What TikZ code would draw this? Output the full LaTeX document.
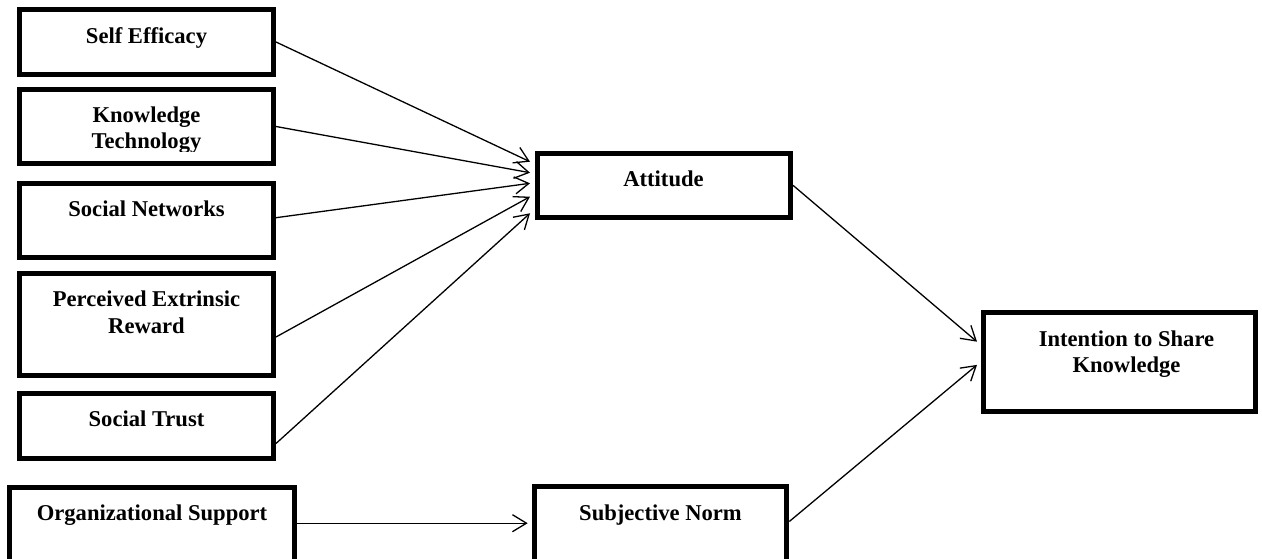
\documentclass[tikz,border=0pt]{standalone}
\usepackage{fontspec}
\setmainfont{Liberation Serif}
\usetikzlibrary{arrows.meta,calc}
\tikzset{
  box/.style={draw=black, line width=5pt, fill=white, inner sep=0pt, minimum width=254pt},
  lbl/.style={font=\bfseries\fontsize{22.6}{26.7}\selectfont, inner sep=0pt, align=center},
  conn/.style={line width=1.3pt, -{Straight Barb[length=14pt,width=17pt,line width=1.3pt]}}
}
\begin{document}
\begin{tikzpicture}[x=1pt,y=-1pt]
\useasboundingbox (0,0) rectangle (1262,559);
\clip (0,0) rectangle (1262,559);
% boxes
\node[box, minimum height=65pt] (se) at (146.5,42) {};
\node[box, minimum height=74pt] (kt) at (146.5,126.5) {};
\node[box, minimum height=74pt] (sn) at (146.5,220.5) {};
\node[box, minimum height=102pt] (per) at (146.5,324.5) {};
\node[box, minimum height=65pt] (st) at (146.5,426) {};
\node[box, minimum width=285pt, minimum height=100pt] (os) at (152,537.5) {};
\node[box, minimum width=253pt, minimum height=64.3pt] (att) at (664,185.3) {};
\node[box, minimum width=252.6pt, minimum height=100pt] (sj) at (660.5,536.5) {};
\node[box, minimum width=272pt, minimum height=99.8pt] (int) at (1119.5,361.9) {};
% labels
\node[lbl, anchor=base] (se-t) at (146.5,43.3) {Self Efficacy};
\begin{scope}
\clip (17,87) rectangle (276,151.7);
\node[lbl, anchor=north] (kt-t) at (146.5,106.4) {Knowledge\\Technology};
\end{scope}
\node[lbl, anchor=base] (sn-t) at (146.5,216) {Social Networks};
\node[lbl, anchor=north] (per-t) at (146.5,290.7) {Perceived Extrinsic\\Reward};
\node[lbl, anchor=base] (st-t) at (146.5,426.7) {Social Trust};
\node[lbl, anchor=base] (os-t) at (152,520.7) {Organizational Support};
\node[lbl, anchor=base] (att-t) at (663.5,186.7) {Attitude};
\node[lbl, anchor=base] (sj-t) at (660.5,520.7) {Subjective Norm};
\node[lbl, anchor=north, text height=, align=center] (int-t) at (1126.5,330.4) {Intention to Share\\[-0.7pt]Knowledge};
% connectors
\draw[conn] (se.east) -- ($(att.west)+(-5,-23.6)$);
\draw[conn] (kt.east) -- ($(att.west)+(-5,-12.6)$);
\draw[conn] ($(sn.east)+(0,-2.8)$) -- ($(att.west)+(-5,-2)$);
\draw[conn] ($(per.east)+(0,12.5)$) -- ($(att.west)+(-5,11.4)$);
\draw[conn] ($(st.east)+(0,17.5)$) -- ($(att.west)+(-5,28)$);
\draw[conn] (att.east) -- ($(int.west)+(-4,-20.2)$);
\draw[conn] ($(sj.north east)+(0,37.5)$) -- ($(int.west)+(-4,3)$);
\draw[conn] ($(os.north east)+(0,38.2)$) -- ($(sj.north west)+(-4,39.2)$);
\end{tikzpicture}
\end{document}
